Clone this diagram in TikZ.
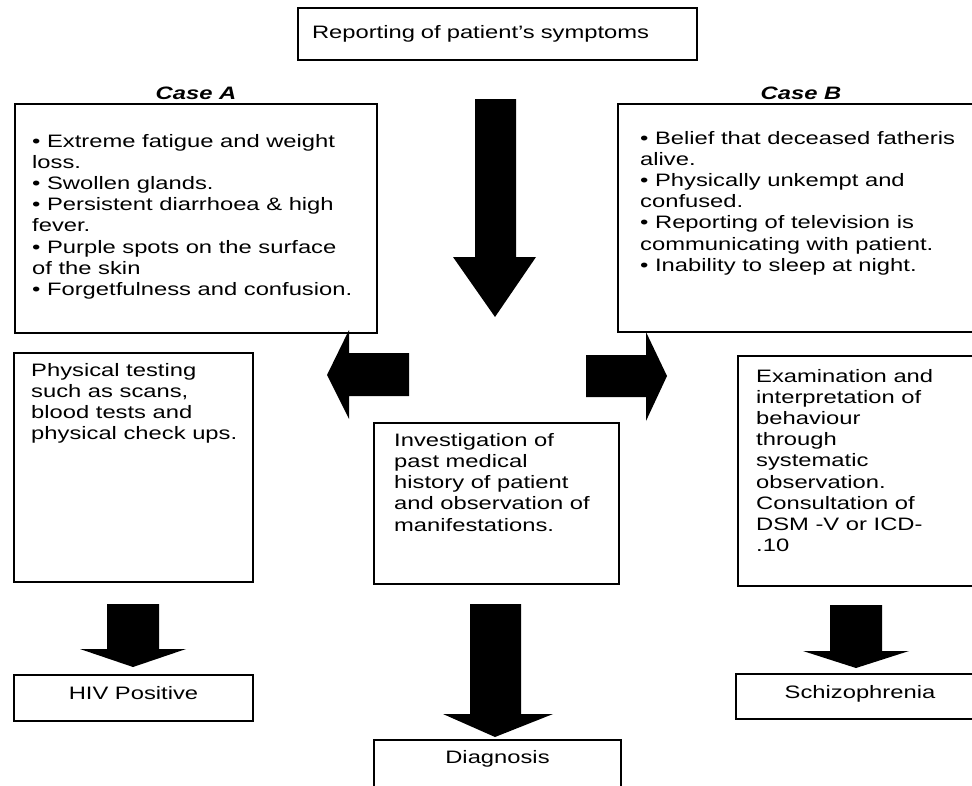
\documentclass[tikz,border=0pt]{standalone}
\usepackage{fontspec}
\setmainfont{Liberation Sans}[FakeStretch=1.32]
\usepackage{tikz}
\usetikzlibrary{positioning}
\tikzstyle{framebox} = [rectangle, draw=black, line width=2pt, anchor=north west, inner sep=0pt,
font=\fontsize{18pt}{21.2pt}\selectfont]
\tikzstyle{listtext} = [inner sep=0pt, align=left, font=\fontsize{18pt}{21.2pt}\selectfont]
\tikzstyle{resultbox} = [framebox, text height=24pt, text depth=22pt]
\tikzstyle{casehead} = [inner sep=0pt, yshift=3pt, font=\fontsize{18pt}{21.2pt}\selectfont\bfseries\itshape]
\tikzstyle{blockarrow} = [fill=black]

\begin{document}
\begin{tikzpicture}[x=1pt, y=-1pt]
  \useasboundingbox (0,0) rectangle (972,785);
  \clip (0,0) rectangle (972,785);
  \node (report) [framebox, minimum width=399pt, minimum height=52pt, text width=371pt,
  inner xsep=14pt, align=left] at (297,7) {Reporting of patient’s symptoms};
  % the two case boxes run on past the right edge, like the reference
  \node (caseA) [framebox, minimum width=362pt, minimum height=229pt,
  label={[casehead]above:Case A}] at (14,103) {};
  \node (caseAtext) [listtext, below right=30.8pt and 18pt of caseA.north west]
  {• Extreme fatigue and weight\\ loss.\\ • Swollen glands.\\ • Persistent diarrhoea \& high\\
  fever.\\ • Purple spots on the surface\\ of the skin\\ • Forgetfulness and confusion.};
  \node (caseB) [framebox, minimum width=366pt, minimum height=228pt,
  label={[casehead]above:Case B}] at (617,103) {};
  \node (caseBtext) [listtext, below right=27.9pt and 23pt of caseB.north west]
  {• Belief that deceased fatheris\\ alive.\\ • Physically unkempt and\\ confused.\\
  • Reporting of television is\\ communicating with patient.\\ • Inability to sleep at night.};
  \node (physical) [framebox, minimum width=239pt, minimum height=229pt] at (13,352) {};
  \node (physicaltext) [listtext, below right=11.1pt and 18pt of physical.north west]
  {Physical testing\\ such as scans,\\ blood tests and\\ physical check ups.};
  \node (history) [framebox, minimum width=245pt, minimum height=161pt] at (373,422) {};
  \node (historytext) [listtext, below right=11.1pt and 21pt of history.north west]
  {Investigation of\\ past medical\\ history of patient\\ and observation of\\ manifestations.};
  \node (exam) [framebox, minimum width=246pt, minimum height=230pt] at (737,355) {};
  \node (examtext) [listtext, below right=13.8pt and 19pt of exam.north west]
  {Examination and\\ interpretation of\\ behaviour\\ through\\ systematic\\ observation.\\
  Consultation of\\ DSM -V or ICD-\\ .10};
  \node (hiv) [resultbox, minimum width=239pt] at (13,674) {HIV Positive};
  \node (diagnosis) [resultbox, minimum width=247pt, text height=23pt, text depth=40pt] at (373,739) {Diagnosis};
  \node (schizo) [resultbox, minimum width=248pt, text depth=21pt] at (735,673) {Schizophrenia};
  % block arrows
  \fill[blockarrow] (475,99) -- (516,99) -- (516,257) -- (536,257) -- (495,317) -- (453,257) -- (475,257) -- cycle;
  \fill[blockarrow] (409,353) -- (349,353) -- (349,330) -- (327,375) -- (349,419) -- (349,396) -- (409,396) -- cycle;
  \fill[blockarrow] (586,355) -- (646,355) -- (646,332) -- (667,376) -- (646,421) -- (646,397) -- (586,397) -- cycle;
  \fill[blockarrow] (107,604) -- (159,604) -- (159,649) -- (186,649) -- (133,667) -- (80,649) -- (107,649) -- cycle;
  \fill[blockarrow] (470,604) -- (521,604) -- (521,714) -- (553,714) -- (495,737) -- (443,714) -- (470,714) -- cycle;
  \fill[blockarrow] (830,605) -- (882,605) -- (882,651) -- (909,651) -- (856,668) -- (803,651) -- (830,651) -- cycle;
\end{tikzpicture}
\end{document}
